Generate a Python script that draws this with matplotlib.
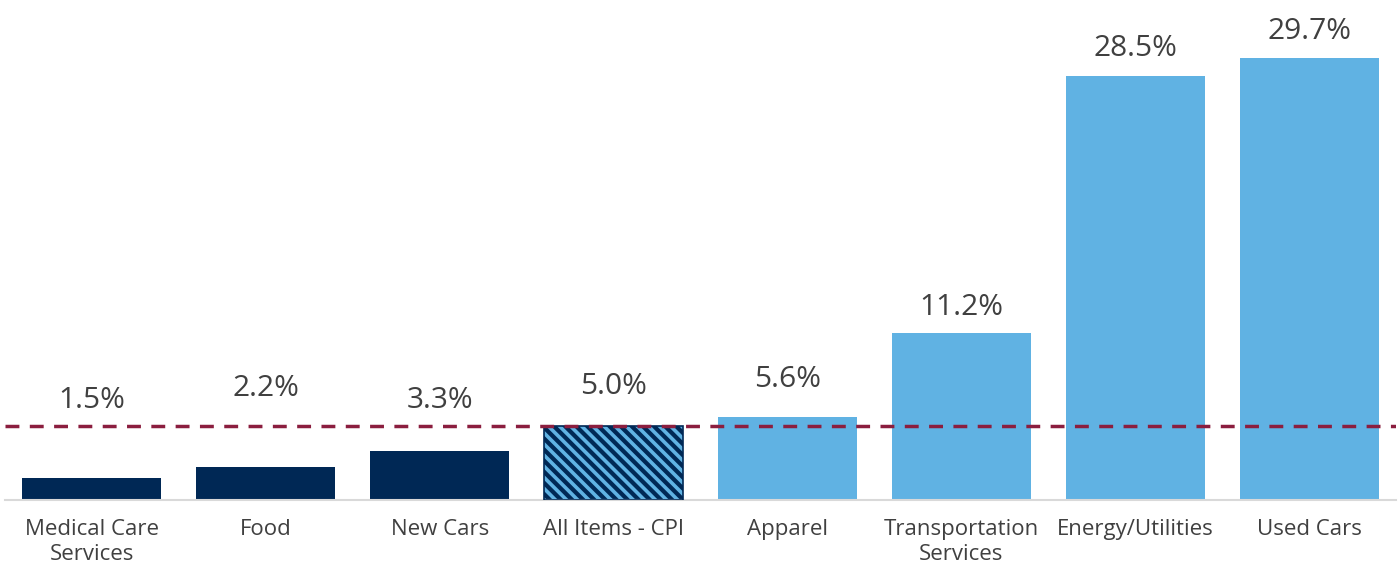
import matplotlib
matplotlib.use("Agg")
import matplotlib.pyplot as plt

categories = ["Medical Care\nServices", "Food", "New Cars", "All Items - CPI",
              "Apparel", "Transportation\nServices", "Energy/Utilities", "Used Cars"]
values = [1.5, 2.2, 3.3, 5.0, 5.6, 11.2, 28.5, 29.7]
value_labels = ["1.5%", "2.2%", "3.3%", "5.0%", "5.6%", "11.2%", "28.5%", "29.7%"]
label_offsets_pt = [45, 46, 26, 18, 16, 8, 9, 9]
cpi_value = 5.0

NAVY = "#002855"
LIGHT = "#60B2E3"
MAROON = "#8B1E3F"
TEXT = "#404040"

plt.rcParams['font.family'] = ['Open Sans', 'DejaVu Sans']
plt.rcParams['hatch.linewidth'] = 2.6

fig = plt.figure(figsize=(14, 5.63), dpi=100)
ax = fig.add_axes([5/1400, 63/563, 1391/1400, 500/563])

colors = [NAVY, NAVY, NAVY, NAVY, LIGHT, LIGHT, LIGHT, LIGHT]
x = range(len(values))
bars = ax.bar(x, values, width=0.8, color=colors, zorder=2)
# hatched CPI bar
b = bars[3]
b.set_facecolor(NAVY)
b.set_edgecolor(LIGHT)
b.set_hatch("\\\\\\")
b.set_linewidth(0)
ax.bar([3], [values[3]], width=0.8, fill=False, edgecolor=NAVY, linewidth=1.2, zorder=3)

ax.axhline(cpi_value, color=MAROON, linestyle=(0, (4, 3)), linewidth=2.5, zorder=4)

for xi, v, lab, off in zip(x, values, value_labels, label_offsets_pt):
    ax.annotate(lab, (xi, v), xytext=(0, off), textcoords="offset points",
                ha="center", va="bottom", fontsize=21.5, color=TEXT)

ax.set_xlim(-0.5, 7.5)
ax.set_ylim(0, 33.6)
ax.set_xticks(list(x))
ax.set_xticklabels(categories, fontsize=16, color=TEXT, linespacing=1.2)
ax.tick_params(axis='x', length=0, pad=14)
ax.set_yticks([])
for s in ["top", "right", "left"]:
    ax.spines[s].set_visible(False)
ax.spines["bottom"].set_color("#D9D9D9")
ax.spines["bottom"].set_linewidth(1.5)

fig.savefig("out.png", dpi=100)
